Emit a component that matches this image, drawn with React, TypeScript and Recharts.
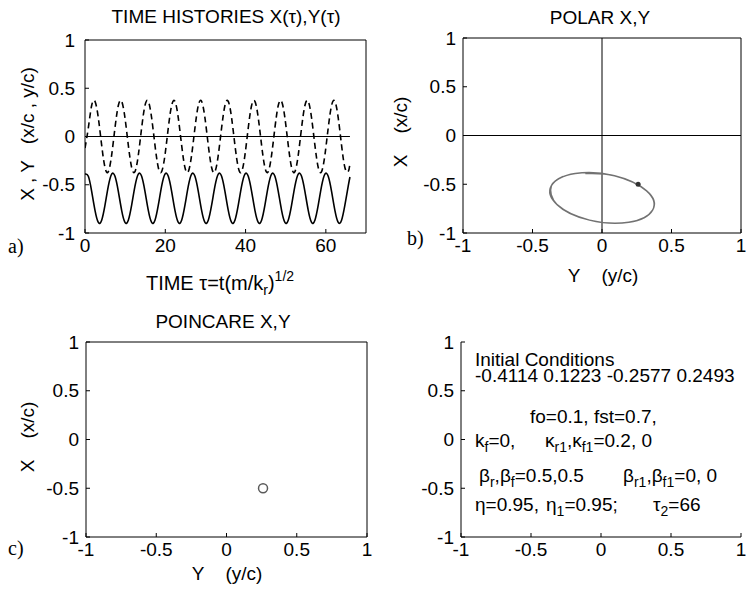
import { ComposedChart, Line, Scatter, XAxis, YAxis, ReferenceLine } from 'recharts'

// time axis tau = t(m/k_r)^(1/2), sampled about 8 points per forcing period
const tau = [
  0, 0.83, 1.66, 2.49, 3.32, 4.15, 4.98, 5.81,
  6.64, 7.47, 8.3, 9.13, 9.96, 10.79, 11.62, 12.45,
  13.28, 14.11, 14.94, 15.77, 16.6, 17.43, 18.26, 19.09,
  19.92, 20.75, 21.58, 22.41, 23.24, 24.07, 24.9, 25.73,
  26.56, 27.39, 28.22, 29.05, 29.88, 30.71, 31.54, 32.37,
  33.2, 34.03, 34.86, 35.69, 36.52, 37.35, 38.18, 39.01,
  39.84, 40.67, 41.5, 42.33, 43.16, 43.99, 44.82, 45.65,
  46.48, 47.31, 48.14, 48.97, 49.8, 50.63, 51.46, 52.29,
  53.12, 53.95, 54.78, 55.61, 56.44, 57.27, 58.1, 58.93,
  59.76, 60.59, 61.42, 62.25, 63.08, 63.91, 64.74, 65.57,
  66,
]

// X(tau)  (x/c), solid curve
const xSeries = [
  -0.39, -0.412, -0.568, -0.765, -0.89, -0.868, -0.712, -0.515,
  -0.39, -0.412, -0.568, -0.765, -0.89, -0.868, -0.712, -0.515,
  -0.39, -0.412, -0.568, -0.765, -0.89, -0.868, -0.712, -0.515,
  -0.39, -0.412, -0.568, -0.765, -0.89, -0.868, -0.712, -0.515,
  -0.39, -0.412, -0.568, -0.765, -0.89, -0.868, -0.712, -0.515,
  -0.39, -0.412, -0.568, -0.765, -0.89, -0.868, -0.712, -0.515,
  -0.39, -0.412, -0.568, -0.765, -0.89, -0.868, -0.712, -0.515,
  -0.39, -0.412, -0.568, -0.765, -0.89, -0.868, -0.712, -0.515,
  -0.39, -0.412, -0.568, -0.765, -0.89, -0.868, -0.712, -0.515,
  -0.39, -0.412, -0.568, -0.765, -0.89, -0.868, -0.712, -0.515,
  -0.42,
]

// Y(tau)  (y/c), dashed curve
const ySeries = [
  -0.12, 0.09, 0.321, 0.364, 0.193, -0.09, -0.321, -0.364,
  -0.193, 0.09, 0.321, 0.364, 0.193, -0.09, -0.321, -0.364,
  -0.193, 0.09, 0.321, 0.364, 0.193, -0.09, -0.321, -0.364,
  -0.193, 0.09, 0.321, 0.364, 0.193, -0.09, -0.321, -0.364,
  -0.193, 0.09, 0.321, 0.364, 0.193, -0.09, -0.321, -0.364,
  -0.193, 0.09, 0.321, 0.364, 0.193, -0.09, -0.321, -0.364,
  -0.193, 0.09, 0.321, 0.364, 0.193, -0.09, -0.321, -0.364,
  -0.193, 0.09, 0.321, 0.364, 0.193, -0.09, -0.321, -0.364,
  -0.193, 0.09, 0.321, 0.364, 0.193, -0.09, -0.321, -0.364,
  -0.193, 0.09, 0.321, 0.364, 0.193, -0.09, -0.321, -0.364,
  -0.28,
]

// Poincare section point (Y, X)
const poincareY = [0.26]
const poincareX = [-0.5]

const timeTicks = [0, 20, 40, 60]
const unitTicks = [-1, -0.5, 0, 0.5, 1]

const timeData = tau.map((t, i) => ({ t, x: xSeries[i], y: ySeries[i] }))
const polarData = tau.map((_, i) => ({ py: ySeries[i], px: xSeries[i] }))
const poincareData = poincareY.map((v, i) => ({ py: v, px: poincareX[i] }))

const font = '"Liberation Sans", Arial, Helvetica, sans-serif'
const serif = '"Liberation Serif", "Times New Roman", serif'
const tickStyle = { fontSize: 19, fill: '#000', fontFamily: font }
const black = { stroke: '#000', strokeWidth: 1 }
const sp = (n: number) => '\u00a0'.repeat(n)

function frameAxes(xDomain: number[], xTicks: number[], yWidth: number, xHeight: number, yMargin: number, box: boolean) {
  const list = [
    <XAxis
      key="xb"
      dataKey={xDomain[1] === 70 ? 't' : 'py'}
      type="number"
      domain={xDomain}
      ticks={xTicks}
      allowDataOverflow
      height={xHeight}
      tickSize={-4}
      tickMargin={10}
      axisLine={black}
      tickLine={black}
      tick={tickStyle}
      interval={0}
    />,
    <YAxis
      key="yl"
      dataKey={xDomain[1] === 70 ? undefined : 'px'}
      type="number"
      domain={[-1, 1]}
      ticks={unitTicks}
      allowDataOverflow
      width={yWidth}
      tickSize={-4}
      tickMargin={yMargin}
      axisLine={black}
      tickLine={black}
      tick={tickStyle}
      interval={0}
    />,
  ]
  if (box) {
    list.push(
      <XAxis
        key="xt"
        xAxisId="top"
        orientation="top"
        type="number"
        domain={xDomain}
        ticks={xTicks}
        allowDataOverflow
        height={1}
        tickSize={-4}
        axisLine={black}
        tickLine={black}
        tick={false}
        interval={0}
      />,
      <YAxis
        key="yr"
        yAxisId="right"
        orientation="right"
        type="number"
        domain={[-1, 1]}
        ticks={unitTicks}
        allowDataOverflow
        width={1}
        tickSize={-4}
        axisLine={black}
        tickLine={black}
        tick={false}
        interval={0}
      />,
    )
  }
  return list
}

function TimeHistories() {
  return (
    <ComposedChart width={373} height={280} data={timeData} margin={{ top: 39, right: 6, bottom: 0, left: 0 }}>
      {frameAxes([0, 70], timeTicks, 85, 47, 14, true)}
      <ReferenceLine segment={[{ x: 0, y: 0 }, { x: tau[tau.length - 1], y: 0 }]} stroke="#000" strokeWidth={1} />
      <Line dataKey="y" type="natural" stroke="#000" strokeWidth={1.6} strokeDasharray="6 4" dot={false} isAnimationActive={false} />
      <Line dataKey="x" type="natural" stroke="#000" strokeWidth={1.6} dot={false} isAnimationActive={false} />
    </ComposedChart>
  )
}

function PolarPlot() {
  return (
    <ComposedChart width={373} height={280} data={polarData} margin={{ top: 37, right: 4, bottom: 0, left: 0 }}>
      {frameAxes([-1, 1], unitTicks, 90, 47, 11, true)}
      <ReferenceLine x={0} stroke="#000" strokeWidth={1} />
      <ReferenceLine y={0} stroke="#000" strokeWidth={1} />
      <Line dataKey="px" type="natural" stroke="#727272" strokeWidth={1.5} dot={false} isAnimationActive={false} />
      <Scatter
        data={poincareData}
        dataKey="px"
        isAnimationActive={false}
        shape={(p: any) => <circle cx={p.cx} cy={p.cy} r={2.5} fill="#333" />}
      />
    </ComposedChart>
  )
}

function PoincarePlot() {
  return (
    <ComposedChart width={373} height={293} data={poincareData} margin={{ top: 41, right: 5, bottom: 0, left: 0 }}>
      {frameAxes([-1, 1], unitTicks, 86, 56, 11, true)}
      <Scatter
        data={poincareData}
        dataKey="px"
        isAnimationActive={false}
        shape={(p: any) => <circle cx={p.cx} cy={p.cy} r={4.5} fill="none" stroke="#5a5a5a" strokeWidth={1.5} />}
      />
    </ComposedChart>
  )
}

function ParamsPanel() {
  return (
    <ComposedChart width={373} height={293} data={[]} margin={{ top: 42, right: 5, bottom: 0, left: 0 }}>
      {frameAxes([-1, 1], unitTicks, 88, 56, 11, false)}
    </ComposedChart>
  )
}

const sub = (s: string) => (
  <tspan fontSize={14} dy={5}>{s}</tspan>
)
const back = (s: string) => <tspan dy={-5}>{s}</tspan>

export default function App() {
  return (
    <div style={{ position: 'absolute', left: 0, top: 0, width: 746, height: 593, background: '#fff', overflow: 'hidden' }}>
      <div style={{ position: 'absolute', left: 0, top: 0 }}>
        <TimeHistories />
      </div>
      <div style={{ position: 'absolute', left: 373, top: 0 }}>
        <PolarPlot />
      </div>
      <div style={{ position: 'absolute', left: 0, top: 300 }}>
        <PoincarePlot />
      </div>
      <div style={{ position: 'absolute', left: 373, top: 300 }}>
        <ParamsPanel />
      </div>
      <svg
        width={746}
        height={593}
        style={{ position: 'absolute', left: 0, top: 0, pointerEvents: 'none' }}
        fontFamily={font}
        fontSize={19}
        fill="#000"
      >
        {/* titles */}
        <text x={226} y={23} textAnchor="middle">TIME HISTORIES X(τ),Y(τ)</text>
        <text x={600} y={24} textAnchor="middle">POLAR X,Y</text>
        <text x={223} y={328} textAnchor="middle">POINCARE X,Y</text>

        {/* axis labels */}
        <text transform="translate(27,134) rotate(-90)" textAnchor="middle" dominantBaseline="central">
          {`X , Y${sp(3)}(x/c , y/c)`}
        </text>
        <text x={220} y={290} textAnchor="middle" fontSize={20}>
          TIME τ=t(m/k{sub('r')}{back(')')}<tspan fontSize={14} dy={-9}>1/2</tspan>
        </text>
        <text transform="translate(400,132) rotate(-90)" textAnchor="middle" dominantBaseline="central">
          {`X${sp(4)}(x/c)`}
        </text>
        <text x={603} y={282} textAnchor="middle">{`Y${sp(4)}(y/c)`}</text>
        <text transform="translate(27,437) rotate(-90)" textAnchor="middle" dominantBaseline="central">
          {`X${sp(4)}(x/c)`}
        </text>
        <text x={227} y={580} textAnchor="middle">{`Y${sp(4)}(y/c)`}</text>

        {/* panel letters */}
        <text x={8} y={253} fontFamily={serif} fontSize={20}>a)</text>
        <text x={407} y={245} fontFamily={serif} fontSize={20}>b)</text>
        <text x={8} y={555} fontFamily={serif} fontSize={20}>c)</text>

        {/* simulation parameters */}
        <text x={475} y={366}>Initial Conditions</text>
        <text x={475} y={382}>-0.4114 0.1223 -0.2577 0.2493</text>
        <text x={530} y={423}>fo=0.1, fst=0.7,</text>
        <text x={475} y={447}>k{sub('f')}{back('=0,')}</text>
        <text x={545} y={447}>κ{sub('r1')}{back(',κ')}{sub('f1')}{back('=0.2, 0')}</text>
        <text x={479} y={482}>β{sub('r')}{back(',β')}{sub('f')}{back('=0.5,0.5')}</text>
        <text x={623} y={482}>β{sub('r1')}{back(',β')}{sub('f1')}{back('=0, 0')}</text>
        <text x={475} y={511}>η=0.95,</text>
        <text x={546} y={511}>η{sub('1')}{back('=0.95;')}</text>
        <text x={653} y={511}>τ{sub('2')}{back('=66')}</text>
      </svg>
    </div>
  )
}
